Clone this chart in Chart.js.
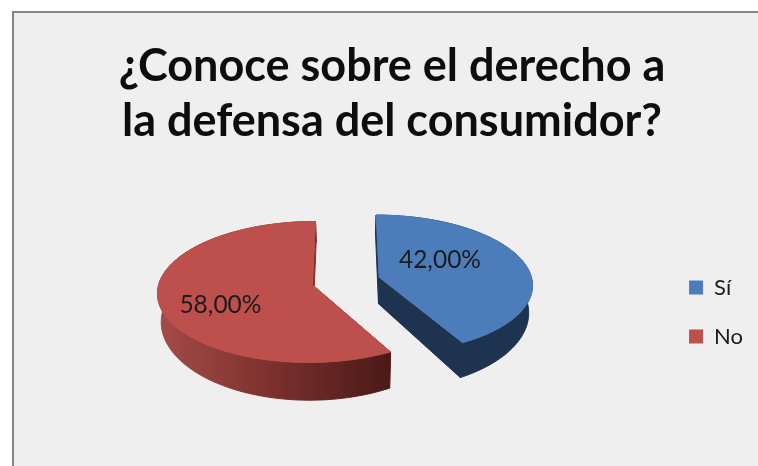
<!DOCTYPE html>
<html><head><meta charset="utf-8">
<script src="https://cdn.jsdelivr.net/npm/chart.js@4"></script>
<style>
html,body{margin:0;padding:0;background:#fff;overflow:hidden;width:758px;height:466px}
#frame{position:absolute;left:12px;top:11px;width:760px;height:470px;background:#efefef;border-left:2px solid #858585;border-top:2px solid #858585;overflow:hidden}
canvas{position:absolute;left:0;top:0}
</style></head><body>
<div id="frame"><canvas id="c" width="756" height="598" style="width:756px;height:598px"></canvas></div>
<script>
const categories = ['Sí', 'No'];
const shares = [42, 58];
const valueLabels = ['42,00%', '58,00%'];
const titleLines = ['¿Conoce sobre el derecho a', 'la defensa del consumidor?'];
const topColors = ['#4c7dba', '#bd4f4c'];
const cutColors = ['#1d3350', '#7d2f2c'];

// tilted-disc view of the pie (canvas px)
const view = {cx: 332, cy: 268, rx: 153, ry: 69, k: 0.1, depth: 27, shrink: 0.98, explode: 0.225};
const labelAt = [{r: 0.49, deg: 58}, {r: 0.64, deg: 244}];

function project(U, V, low) {
  const w = 1 - view.k * V;
  let X = view.rx * U / w, Y = view.ry * V / w;
  if (low) { X *= view.shrink; Y += view.depth / (w * w * w); }
  return [view.cx + X, view.cy + Y];
}
const pie3d = {
  id: 'pie3d',
  beforeDatasetDraw(chart) {
    const ctx = chart.ctx, arcs = chart.getDatasetMeta(0).data;
    const parts = arcs.map((el, i) => {
      const {startAngle: a0, endAngle: a1} = el.getProps(['startAngle', 'endAngle'], true);
      const mid = (a0 + a1) / 2;
      const ou = Math.cos(mid) * view.explode, ov = Math.sin(mid) * view.explode;
      const n = 120, rim = [];
      for (let j = 0; j <= n; j++) {
        const a = a0 + (a1 - a0) * j / n;
        rim.push([ou + Math.cos(a), ov + Math.sin(a)]);
      }
      return {i, a0, a1, ou, ov, rim};
    });
    const path = pts => {
      ctx.beginPath();
      pts.forEach((p, j) => j ? ctx.lineTo(p[0], p[1]) : ctx.moveTo(p[0], p[1]));
      ctx.closePath();
    };
    // sides
    parts.forEach(p => {
      const apex = [p.ou, p.ov], first = p.rim[0], last = p.rim[p.rim.length - 1];
      ctx.lineWidth = 1;
      [first, last].forEach(e => {
        path([project(apex[0], apex[1]), project(e[0], e[1]), project(e[0], e[1], true), project(apex[0], apex[1], true)]);
        ctx.fillStyle = ctx.strokeStyle = cutColors[p.i]; ctx.fill(); ctx.stroke();
      });
      const side = p.rim.map(q => project(q[0], q[1])).concat(p.rim.slice().reverse().map(q => project(q[0], q[1], true)));
      path(side);
      if (p.i === 1) {
        const g = ctx.createLinearGradient(view.cx - 190, 0, view.cx + 42, 0);
        g.addColorStop(0, '#a54c49'); g.addColorStop(0.5, '#7c302d'); g.addColorStop(1, '#4b1a17');
        ctx.fillStyle = ctx.strokeStyle = g;
      } else ctx.fillStyle = ctx.strokeStyle = cutColors[p.i];
      ctx.fill(); ctx.stroke();
    });
    // top faces
    parts.forEach(p => {
      path([project(p.ou, p.ov)].concat(p.rim.map(q => project(q[0], q[1]))));
      ctx.fillStyle = ctx.strokeStyle = topColors[p.i]; ctx.fill(); ctx.stroke();
    });
    // value labels
    ctx.font = '24.5px Lato'; ctx.fillStyle = '#1c1c1c'; ctx.textAlign = 'center'; ctx.textBaseline = 'middle';
    parts.forEach(p => {
      const t = labelAt[p.i], a = (t.deg - 90) * Math.PI / 180;
      const q = project(p.ou + t.r * Math.cos(a), p.ov + t.r * Math.sin(a));
      ctx.fillText(valueLabels[p.i], q[0], q[1]);
    });
    return false;
  }
};
new Chart(document.getElementById('c'), {
  type: 'pie',
  data: {labels: categories, datasets: [{data: shares, backgroundColor: topColors, borderWidth: 0}]},
  options: {
    responsive: false, animation: false, rotation: 0,
    layout: {padding: {left: 17, right: 17}},
    plugins: {
      tooltip: {enabled: false},
      title: {display: true, text: titleLines, color: '#0d0d0d', padding: {top: 26, bottom: 10},
        font: {family: 'Lato', size: 45, weight: 'bold', lineHeight: 1.22}},
      legend: {position: 'right', labels: {font: {family: 'Lato', size: 22}, color: '#1c1c1c', boxWidth: 14, boxHeight: 14, padding: 27}}
    }
  },
  plugins: [pie3d]
});
</script></body></html>
